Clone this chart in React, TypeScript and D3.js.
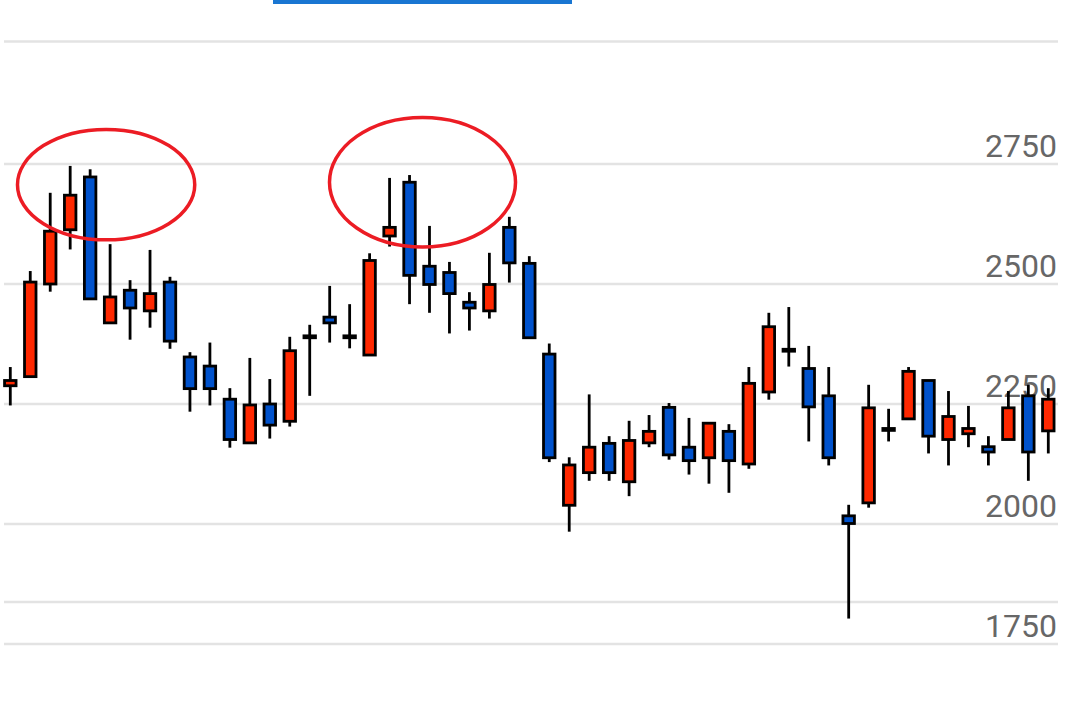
import React from "react";
import * as d3 from "d3";

const W = 1071;
const H = 703;

// candle index (categories)
const categories = d3.range(53);

const opens = [
  2288, 2307, 2500, 2613, 2723, 2419, 2487, 2444, 2504, 2348,
  2329, 2260, 2169, 2250, 2214, 2388, 2431, 2388, 2352, 2600,
  2712, 2537, 2524, 2462, 2444, 2618, 2543, 2354, 2039, 2107,
  2168, 2088, 2169, 2243, 2160, 2138, 2193, 2125, 2275, 2360,
  2324, 2267, 2017, 2044, 2195, 2219, 2299, 2176, 2188, 2161,
  2176, 2267, 2194,
];
const highs = [
  2327, 2527, 2690, 2746, 2739, 2583, 2508, 2571, 2515, 2358,
  2378, 2283, 2346, 2302, 2390, 2415, 2496, 2458, 2564, 2721,
  2727, 2621, 2546, 2483, 2565, 2640, 2558, 2376, 2139, 2270,
  2183, 2215, 2227, 2252, 2221, 2210, 2208, 2327, 2440, 2452,
  2371, 2327, 2040, 2290, 2240, 2327, 2300, 2277, 2246, 2183,
  2277, 2290, 2283,
];
const lows = [
  2247, 2305, 2484, 2572, 2469, 2419, 2384, 2409, 2365, 2234,
  2247, 2159, 2169, 2178, 2203, 2267, 2378, 2366, 2350, 2578,
  2458, 2440, 2397, 2403, 2428, 2503, 2388, 2129, 1984, 2090,
  2090, 2058, 2160, 2134, 2103, 2084, 2065, 2115, 2259, 2328,
  2172, 2122, 1803, 2034, 2172, 2219, 2147, 2122, 2160, 2122,
  2176, 2090, 2147,
];
const closes = [
  2299, 2504, 2610, 2685, 2469, 2473, 2450, 2480, 2381, 2282,
  2282, 2176, 2248, 2206, 2361, 2392, 2419, 2392, 2549, 2618,
  2518, 2499, 2480, 2450, 2499, 2544, 2388, 2138, 2123, 2160,
  2107, 2174, 2193, 2144, 2132, 2210, 2132, 2293, 2411, 2364,
  2244, 2138, 2001, 2242, 2199, 2318, 2183, 2224, 2199, 2150,
  2242, 2150, 2260,
];

const yTicks = [1750, 2000, 2250, 2500, 2750];

// annotation ellipses in data units: center index, center price, radius in index units, radius in price units
const ellipseCx = [4.8, 20.65];
const ellipseCy = [2707, 2712];
const ellipseRx = [4.44, 4.66];
const ellipseRy = [115, 135];

const UP = "#ff2800";
const DOWN = "#0052cc";
const GRID = "#e3e3e3";

export default function App() {
  const x = d3.scaleLinear().domain([0, 52]).range([10.3, 1048.3]);
  const y = d3.scaleLinear().domain([1750, 2750]).range([644, 164]);
  const bodyW = 11.5;

  return (
    <svg
      width={W}
      height={H}
      style={{ position: "fixed", left: 0, top: 0, background: "#fff" }}
      fontFamily="Roboto, sans-serif"
    >
      <rect x={0} y={0} width={W} height={H} fill="#fff" />
      {/* top tab indicator */}
      <rect x={273} y={0} width={299} height={4} fill="#1976d2" />
      {/* pane borders */}
      <line x1={4} x2={1058} y1={41.5} y2={41.5} stroke={GRID} strokeWidth={2.5} />
      <line x1={4} x2={1058} y1={602} y2={602} stroke={GRID} strokeWidth={2.5} />
      {/* gridlines */}
      {yTicks.map((t) => (
        <line key={"g" + t} x1={4} x2={1058} y1={y(t)} y2={y(t)} stroke={GRID} strokeWidth={2.5} />
      ))}
      {/* labels */}
      {yTicks.map((t) => (
        <text
          key={"l" + t}
          x={1057}
          y={y(t) - 7}
          textAnchor="end"
          fontSize={32}
          fill="#676767"
        >
          {t}
        </text>
      ))}
      {/* candles */}
      {categories.map((i) => {
        const o = opens[i];
        const c = closes[i];
        const hi = highs[i];
        const lo = lows[i];
        const cx = x(i);
        const top = y(Math.max(o, c));
        const bot = y(Math.min(o, c));
        const fill = c >= o ? UP : DOWN;
        return (
          <g key={"c" + i}>
            <line x1={cx} x2={cx} y1={y(hi)} y2={y(lo)} stroke="#000" strokeWidth={2.8} />
            <rect
              x={cx - bodyW / 2}
              y={top}
              width={bodyW}
              height={Math.max(0, bot - top)}
              fill={fill}
              stroke="#000"
              strokeWidth={2.8}
            />
          </g>
        );
      })}
      {/* annotation ellipses */}
      {ellipseCx.map((ex, k) => (
        <ellipse
          key={"e" + k}
          cx={x(ex)}
          cy={y(ellipseCy[k])}
          rx={x(ellipseRx[k]) - x(0)}
          ry={y(0) - y(ellipseRy[k])}
          fill="none"
          stroke="#ec1c24"
          strokeWidth={3.5}
        />
      ))}
    </svg>
  );
}
